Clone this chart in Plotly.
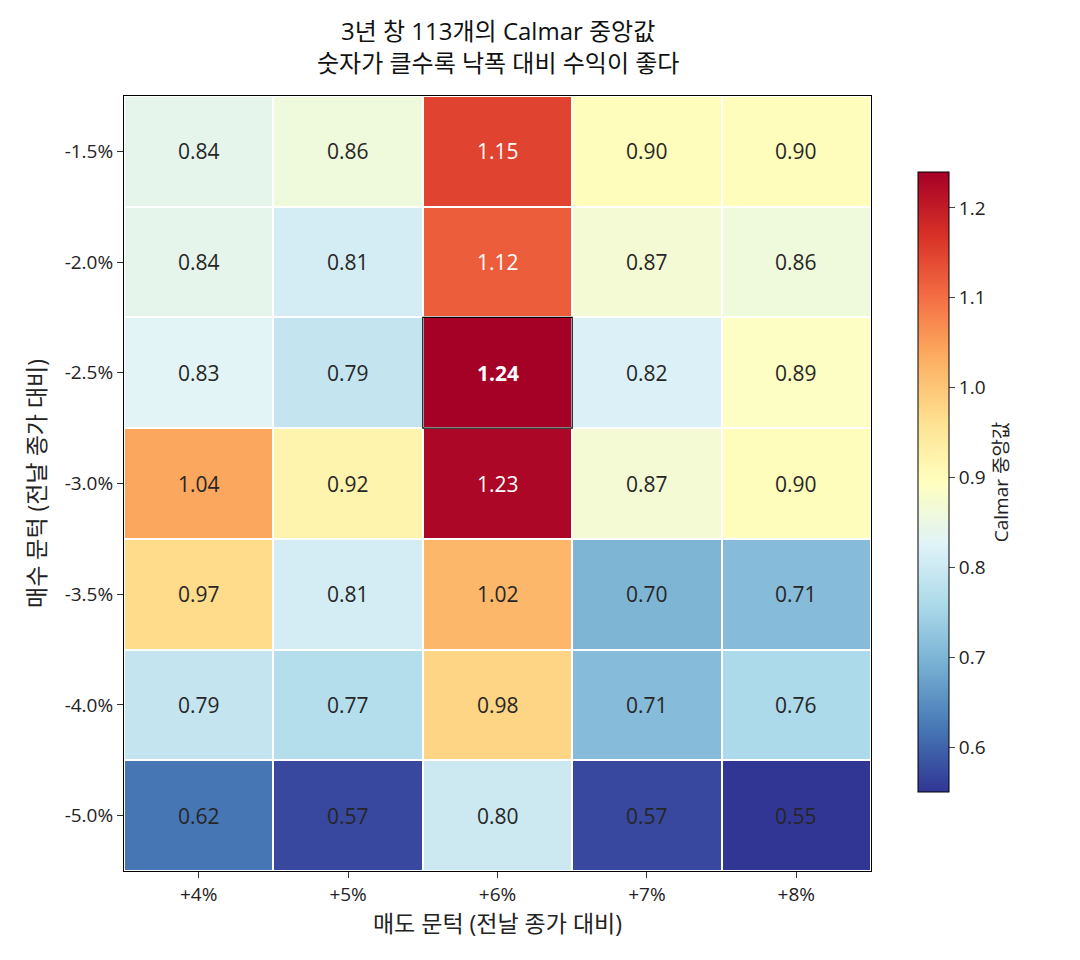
import plotly.graph_objects as go

# axis categories
sell_labels = ["+4%", "+5%", "+6%", "+7%", "+8%"]
buy_labels = ["-1.5%", "-2.0%", "-2.5%", "-3.0%", "-3.5%", "-4.0%", "-5.0%"]

# median Calmar per (buy row, sell column)
calmar = [
    [0.84, 0.86, 1.15, 0.90, 0.90],
    [0.84, 0.81, 1.12, 0.87, 0.86],
    [0.83, 0.79, 1.24, 0.82, 0.89],
    [1.04, 0.92, 1.23, 0.87, 0.90],
    [0.97, 0.81, 1.02, 0.70, 0.71],
    [0.79, 0.77, 0.98, 0.71, 0.76],
    [0.62, 0.57, 0.80, 0.57, 0.55],
]

best_row, best_col = 2, 2

title_lines = ["3년 창 113개의 Calmar 중앙값", "숫자가 클수록 낙폭 대비 수익이 좋다"]

rdylbu_r = [
    [0.0, "#313695"], [0.1, "#4575b4"], [0.2, "#74add1"], [0.3, "#abd9e9"],
    [0.4, "#e0f3f8"], [0.5, "#ffffbf"], [0.6, "#fee090"], [0.7, "#fdae61"],
    [0.8, "#f46d43"], [0.9, "#d73027"], [1.0, "#a50026"],
]

font = "Open Sans, Noto Sans CJK KR, sans-serif"

fig = go.Figure(
    go.Heatmap(
        z=calmar,
        x=sell_labels,
        y=buy_labels,
        colorscale=rdylbu_r,
        zmin=0.55,
        zmax=1.24,
        xgap=2,
        ygap=2,
        hoverinfo="skip",
        colorbar=dict(
            title=dict(text="Calmar 중앙값", side="right", font=dict(size=19)),
            x=1.0495,
            xanchor="left",
            y=0.502,
            yanchor="middle",
            len=0.8,
            ypad=0,
            thickness=31,
            outlinecolor="black",
            outlinewidth=1,
            ticks="outside",
            ticklen=6,
            tickvals=[0.6, 0.7, 0.8, 0.9, 1.0, 1.1, 1.2],
            ticktext=["0.6", "0.7", "0.8", "0.9", "1.0", "1.1", "1.2"],
            tickfont=dict(size=19),
        ),
    )
)

for i, row in enumerate(calmar):
    for j, v in enumerate(row):
        best = (i == best_row and j == best_col)
        txt = f"{v:.2f}"
        if best:
            txt = f"<b>{txt}</b>"
        fig.add_annotation(
            x=sell_labels[j], y=buy_labels[i], text=txt, showarrow=False,
            font=dict(size=21, color="white" if v > 1.1 else "#262626"),
        )

fig.add_shape(
    type="rect", xref="x", yref="y",
    x0=best_col - 0.5, x1=best_col + 0.5,
    y0=best_row - 0.5, y1=best_row + 0.5,
    line=dict(color="black", width=1.2),
)

# two-line title as separate annotations
for k, line in enumerate(title_lines):
    fig.add_annotation(
        xref="paper", yref="paper", x=0.5, y=[1.0845, 1.0435][k],
        xanchor="center", yanchor="middle", showarrow=False,
        text=line, font=dict(size=24, color="#111111"),
    )

fig.update_layout(
    width=1080,
    height=960,
    font=dict(family=font, color="#222222"),
    paper_bgcolor="white",
    plot_bgcolor="white",
    margin=dict(l=116, r=217, t=88, b=97),
    xaxis=dict(
        title=dict(text="매도 문턱 (전날 종가 대비)", font=dict(size=23), standoff=4),
        showline=True, mirror=True, linecolor="black", linewidth=1,
        ticks="outside", ticklen=6, tickcolor="#333333", tickfont=dict(size=19),
        showgrid=False, zeroline=False,
    ),
    yaxis=dict(
        title=dict(text="매수 문턱 (전날 종가 대비)", font=dict(size=23), standoff=12),
        autorange="reversed",
        showline=True, mirror=True, linecolor="black", linewidth=1,
        ticks="outside", ticklen=6, tickcolor="#333333", tickfont=dict(size=19),
        showgrid=False, zeroline=False,
    ),
)

fig.write_html("out.html")
